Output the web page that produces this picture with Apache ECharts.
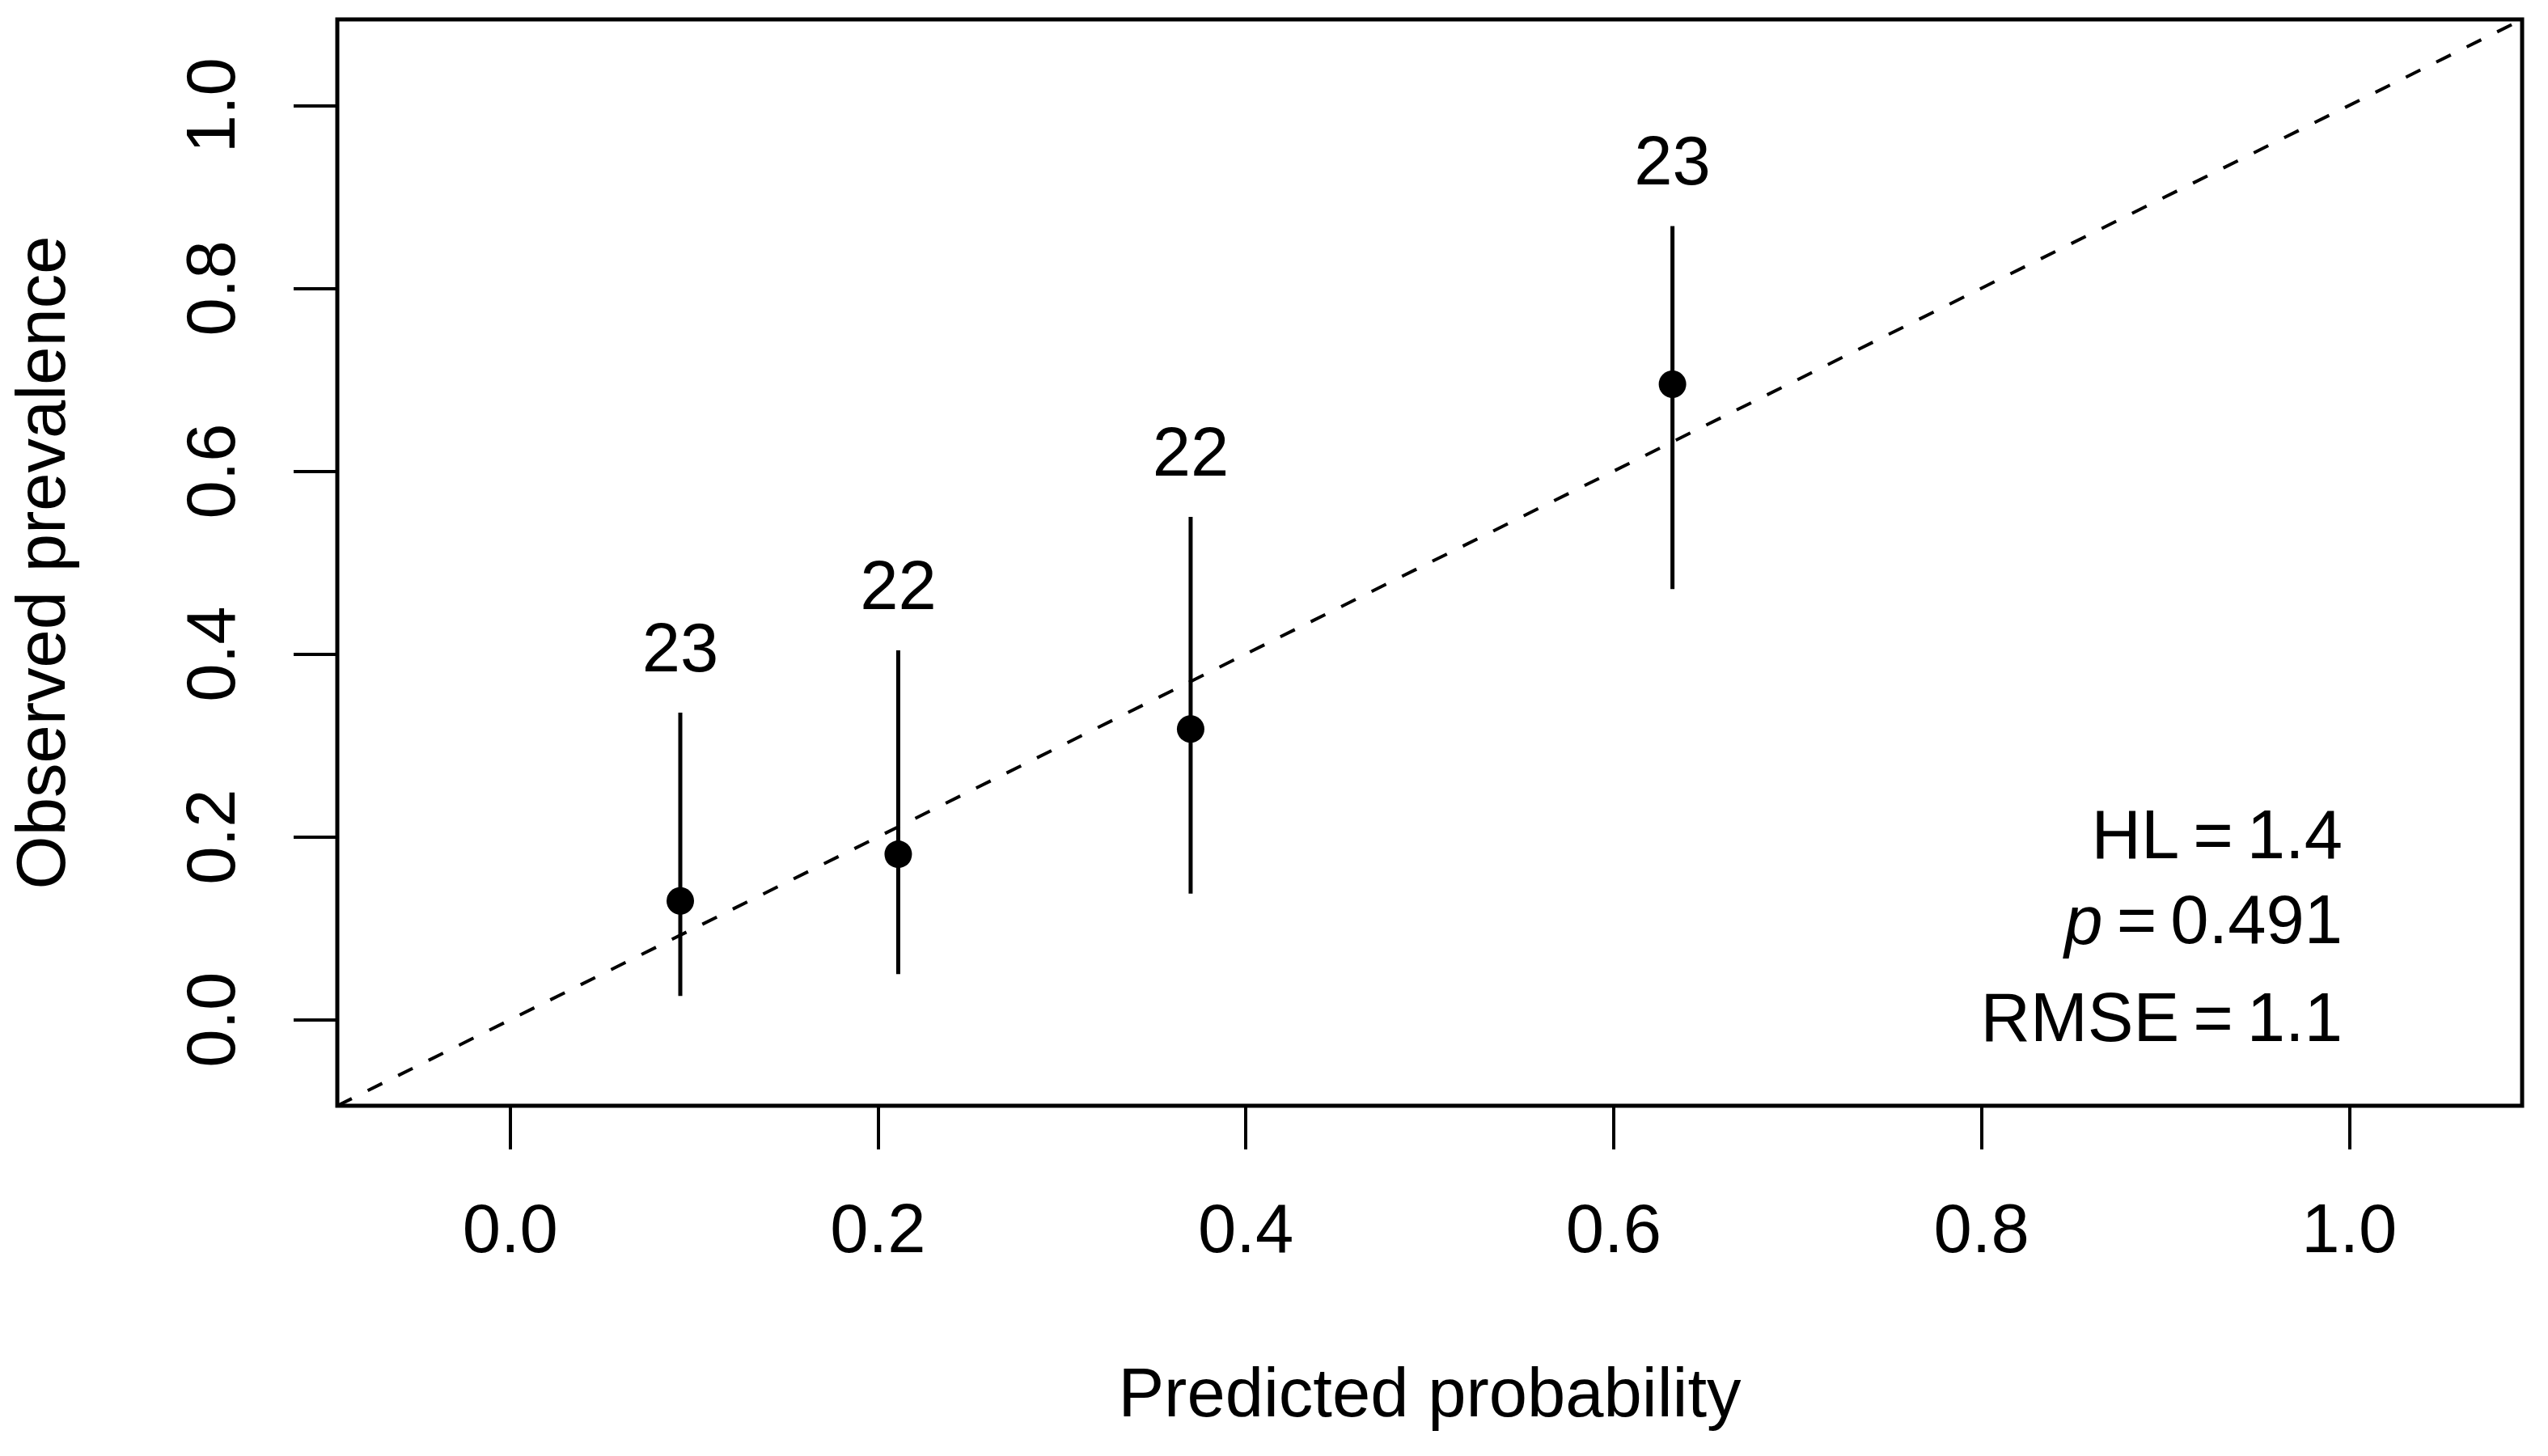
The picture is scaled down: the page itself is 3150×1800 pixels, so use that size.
<!DOCTYPE html>
<html><head><meta charset="utf-8">
<script src="https://cdn.jsdelivr.net/npm/echarts@6/dist/echarts.min.js"></script>
<style>html,body{margin:0;padding:0;background:#fff}#c{width:3150px;height:1800px}</style>
</head><body><div id="c"></div>
<script>
// ---- data ----
const predicted = [0.0925, 0.211, 0.370, 0.632];
const observed  = [0.130, 0.181, 0.318, 0.695];
const ciLower   = [0.026, 0.050, 0.138, 0.471];
const ciUpper   = [0.336, 0.404, 0.550, 0.868];
const groupN    = [23, 22, 22, 23];
const tickValues = [0, 0.2, 0.4, 0.6, 0.8, 1.0];
const axisRange  = [-0.094, 1.094];
const statLines  = ['HL\u2009=\u20091.4', '{i|p}\u2009=\u20090.491', 'RMSE\u2009=\u20091.1'];

const FONT = 'Liberation Sans';
const FS = 85;

const chart = echarts.init(document.getElementById('c'), null, {renderer: 'canvas'});

const pointData = predicted.map((x, i) => [x, observed[i]]);
const ciData = predicted.map((x, i) => [x, ciLower[i], ciUpper[i]]);
const labelData = predicted.map((x, i) => [x, ciUpper[i], groupN[i]]);
const diagData = [[axisRange[0], axisRange[0]], [axisRange[1], axisRange[1]]];

const statY = [1038, 1143, 1264];

const axisCommon = {
  type: 'value',
  min: axisRange[0],
  max: axisRange[1],
  splitLine: {show: false},
  axisLine: {show: false, onZero: false},
  axisTick: {show: true, inside: false, length: 54, customValues: tickValues,
             lineStyle: {color: '#000', width: 4}},
  nameLocation: 'middle',
  nameTextStyle: {fontFamily: FONT, fontSize: FS, color: '#000'}
};

const option = {
  backgroundColor: '#fff',
  animation: false,
  grid: {left: 417, right: 32, top: 24, bottom: 433, show: true,
         borderColor: '#000', borderWidth: 5, backgroundColor: 'transparent'},
  xAxis: Object.assign({}, axisCommon, {
    name: 'Predicted probability',
    nameGap: 318,
    axisLabel: {customValues: tickValues, margin: 115, fontFamily: FONT, fontSize: FS, color: '#000',
                formatter: v => v.toFixed(1)}
  }),
  yAxis: Object.assign({}, axisCommon, {
    name: 'Observed prevalence',
    nameGap: 318,
    nameRotate: 90,
    axisLabel: {customValues: tickValues, rotate: 90, margin: 108, fontFamily: FONT, fontSize: FS, color: '#000',
                formatter: v => v.toFixed(1)}
  }),
  series: [
    {
      type: 'line', data: diagData, symbol: 'none', silent: true, z: 1,
      lineStyle: {color: '#000', width: 4, type: [20, 22]}
    },
    {
      type: 'custom', data: ciData, z: 2,
      encode: {x: 0, y: [1, 2]},
      renderItem: function (params, api) {
        const p1 = api.coord([api.value(0), api.value(1)]);
        const p2 = api.coord([api.value(0), api.value(2)]);
        return {type: 'line', shape: {x1: p1[0], y1: p1[1], x2: p2[0], y2: p2[1]},
                style: {stroke: '#000', lineWidth: 5}};
      }
    },
    {
      type: 'scatter', data: pointData, symbol: 'circle', symbolSize: 34, z: 3,
      itemStyle: {color: '#000', opacity: 1}
    },
    {
      type: 'scatter', data: labelData, symbolSize: 0, z: 3,
      itemStyle: {color: '#000', opacity: 1},
      label: {show: true, position: 'top', distance: 32, fontFamily: FONT, fontSize: FS, color: '#000',
              opacity: 1, formatter: p => String(p.value[2])}
    }
  ],
  graphic: statLines.map((t, i) => ({
    type: 'text', x: 2896, y: statY[i], z: 10,
    style: {text: t, fill: '#000', fontFamily: FONT, fontSize: FS,
            textAlign: 'right', textVerticalAlign: 'middle',
            rich: {i: {fontStyle: 'italic', fontFamily: FONT, fontSize: FS, fill: '#000'}}}
  }))
};
chart.setOption(option);
</script>
</body></html>
